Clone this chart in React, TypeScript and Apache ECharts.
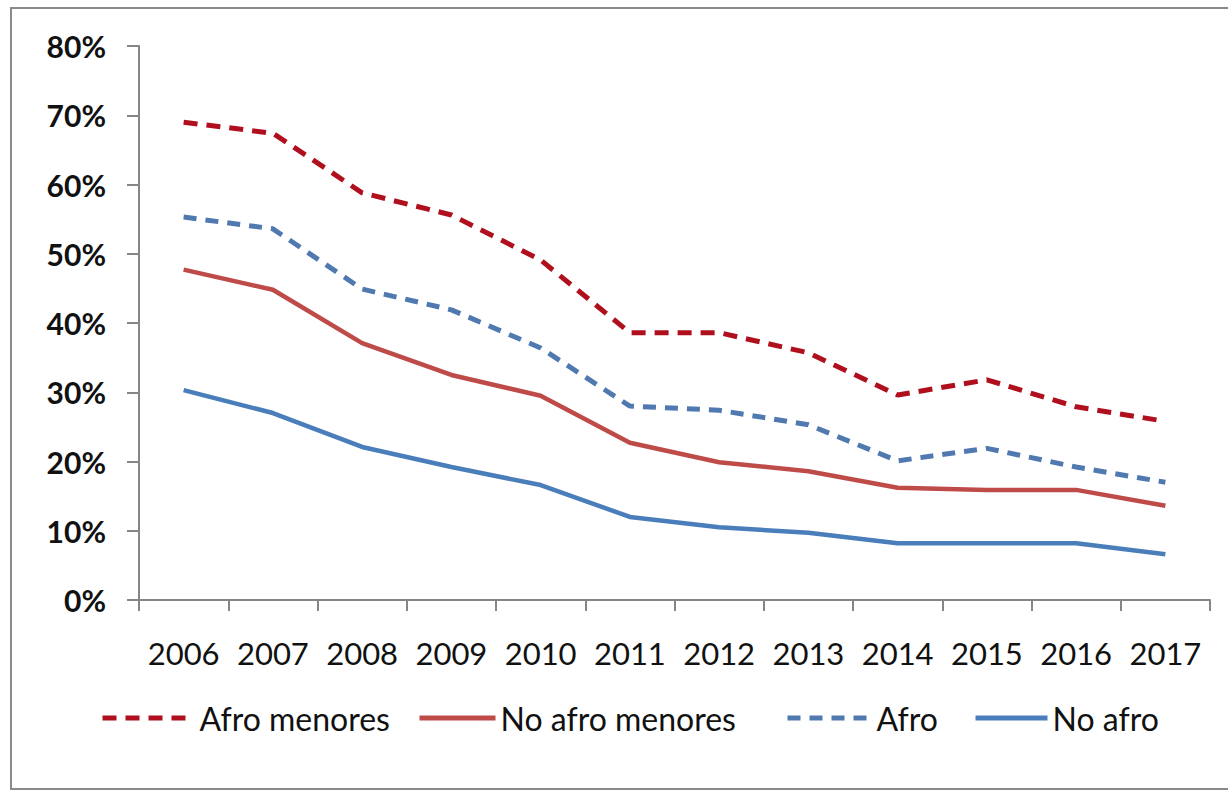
import React, { useEffect, useRef } from "react";
import * as echarts from "echarts";

const years = ["2006", "2007", "2008", "2009", "2010", "2011", "2012", "2013", "2014", "2015", "2016", "2017"];
const afroMenores = [0.69, 0.674, 0.588, 0.556, 0.491, 0.386, 0.386, 0.357, 0.296, 0.318, 0.279, 0.258];
const noAfroMenores = [0.477, 0.448, 0.371, 0.325, 0.295, 0.227, 0.199, 0.186, 0.162, 0.159, 0.159, 0.136];
const afro = [0.553, 0.536, 0.449, 0.419, 0.364, 0.28, 0.274, 0.253, 0.201, 0.219, 0.192, 0.17];
const noAfro = [0.303, 0.27, 0.221, 0.192, 0.166, 0.12, 0.105, 0.097, 0.082, 0.082, 0.082, 0.066];

const FONT = "Lato, 'Open Sans', sans-serif";

export default function App() {
  const ref = useRef<HTMLDivElement>(null);
  useEffect(() => {
    if (!ref.current) return;
    const chart = echarts.init(ref.current, undefined, { renderer: "svg" });
    const legendBase = {
      top: 697,
      itemWidth: 92,
      itemHeight: 14,
      itemStyle: { opacity: 0 },
      lineStyle: { width: 5 },
      textStyle: { fontFamily: FONT, fontSize: 32, color: "#111" },
    };
    chart.setOption({
      animation: false,
      backgroundColor: "#fff",
      graphic: [
        {
          type: "rect",
          shape: { x: 11, y: 8, width: 1230, height: 781 },
          style: { fill: "none", stroke: "#8a8a8a", lineWidth: 2 },
          silent: true,
        },
      ],
      grid: { left: 139, right: 18, top: 46, bottom: 192, containLabel: false },
      legend: [
        { ...legendBase, left: 95, data: ["Afro menores"] },
        { ...legendBase, left: 412, itemWidth: 76, data: ["No afro menores"] },
        { ...legendBase, left: 780, itemWidth: 84, data: ["Afro"] },
        { ...legendBase, left: 968, itemWidth: 72, data: ["No afro"] },
      ],
      xAxis: {
        type: "category",
        data: years,
        boundaryGap: true,
        axisLine: { show: true, lineStyle: { color: "#868686", width: 2 } },
        axisTick: { show: true, length: 11, lineStyle: { color: "#868686", width: 2 } },
        axisLabel: { margin: 37, fontFamily: FONT, fontSize: 31, color: "#111", interval: 0 },
      },
      yAxis: {
        type: "value",
        min: 0,
        max: 0.8,
        interval: 0.1,
        axisLine: { show: true, lineStyle: { color: "#868686", width: 2 } },
        axisTick: { show: true, length: 12, lineStyle: { color: "#868686", width: 2 } },
        splitLine: { show: false },
        axisLabel: {
          margin: 33,
          fontFamily: FONT,
          fontSize: 30,
          fontWeight: "bold",
          color: "#111",
          formatter: (v: number) => Math.round(v * 100) + "%",
        },
      },
      series: [
        {
          name: "Afro menores",
          type: "line",
          data: afroMenores,
          symbol: "none",
          color: "#B0101E",
          lineStyle: { width: 5, type: [14, 9], color: "#B0101E" },
        },
        {
          name: "No afro menores",
          type: "line",
          data: noAfroMenores,
          symbol: "none",
          color: "#BE4B48",
          lineStyle: { width: 4.5, color: "#BE4B48" },
        },
        {
          name: "Afro",
          type: "line",
          data: afro,
          symbol: "none",
          color: "#5079B0",
          lineStyle: { width: 5, type: [13, 9], color: "#5079B0" },
        },
        {
          name: "No afro",
          type: "line",
          data: noAfro,
          symbol: "none",
          color: "#4A7EBB",
          lineStyle: { width: 4.5, color: "#4A7EBB" },
        },
      ],
    });
    return () => chart.dispose();
  }, []);
  return (
    <div
      ref={ref}
      style={{ position: "fixed", left: 0, top: 0, width: 1228, height: 792 }}
    />
  );
}
